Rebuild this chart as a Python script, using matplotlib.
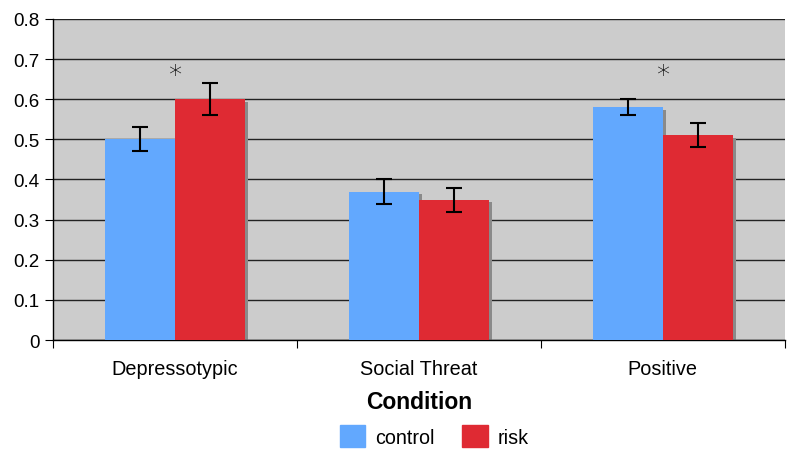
import matplotlib.pyplot as plt
from matplotlib.patches import Patch
import numpy as np

plt.rcParams['font.family'] = ['Liberation Sans', 'DejaVu Sans']

conditions = ['Depressotypic', 'Social Threat', 'Positive']
control = [0.50, 0.37, 0.58]
control_err = [0.03, 0.03, 0.02]
risk = [0.60, 0.35, 0.51]
risk_err = [0.04, 0.03, 0.03]
stars = [True, False, True]
star_y = 0.66

blue = '#62a8fe'
red = '#df2a33'

fig = plt.figure(figsize=(8, 4.64), dpi=100)
ax = fig.add_axes([0.066, 0.265, 0.915, 0.692])
ax.set_facecolor('#cccccc')

x = np.arange(len(conditions))
w = 0.287

# drop shadows
sx, sy = 0.012, 0.006
ax.bar(x - w/2 + sx, np.array(control) - sy, w, bottom=0, color='#8a8a8a', zorder=2)
ax.bar(x + w/2 + sx, np.array(risk) - sy, w, bottom=0, color='#8a8a8a', zorder=2)

ax.bar(x - w/2, control, w, color=blue, zorder=3)
ax.bar(x + w/2, risk, w, color=red, zorder=3)
ax.errorbar(x - w/2, control, yerr=control_err, fmt='none', ecolor='black',
            elinewidth=1.5, capsize=6, capthick=1.5, zorder=4)
ax.errorbar(x + w/2, risk, yerr=risk_err, fmt='none', ecolor='black',
            elinewidth=1.5, capsize=6, capthick=1.5, zorder=4)

for i, s in enumerate(stars):
    if s:
        ax.text(x[i], star_y, '*', ha='center', va='center', fontsize=19,
                family='DejaVu Sans', fontweight='light')

ax.set_xlim(-0.5, 2.5)
ax.set_ylim(0, 0.8)
ax.set_yticks(np.arange(0, 0.81, 0.1))
ax.set_yticklabels(['0', '0.1', '0.2', '0.3', '0.4', '0.5', '0.6', '0.7', '0.8'])
ax.yaxis.grid(True, color='#222222', linewidth=1)
ax.set_axisbelow(True)

ax.set_xticks([-0.5, 0.5, 1.5, 2.5])
ax.set_xticklabels([])
ax.set_xticks(x, minor=True)
ax.set_xticklabels(conditions, minor=True)
ax.tick_params(axis='x', which='minor', length=0, pad=14, labelsize=14.3)
ax.tick_params(axis='x', which='major', length=6)
ax.tick_params(axis='y', length=6, labelsize=13.5)

for sp in ['top', 'right']:
    ax.spines[sp].set_visible(False)
ax.spines['left'].set_linewidth(1)
ax.spines['bottom'].set_linewidth(1)

ax.set_xlabel('Condition', fontsize=16.5, fontweight='bold', labelpad=8)

handles = [Patch(color=blue, label='control'), Patch(color=red, label='risk')]
fig.legend(handles=handles, loc='center', bbox_to_anchor=(0.543, 0.058), ncol=2,
           frameon=False, fontsize=14.2, handlelength=1.27, handleheight=1.27,
           columnspacing=1.4, handletextpad=0.5)

fig.savefig('out.png', dpi=100)
